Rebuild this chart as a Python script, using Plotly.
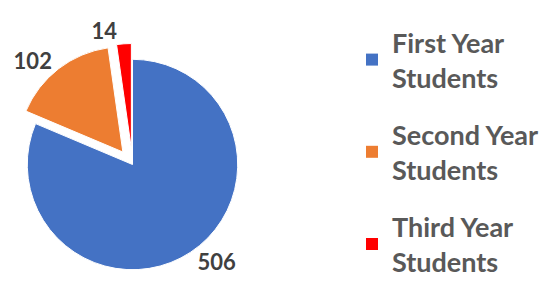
import plotly.graph_objects as go

categories = ["First Year Students", "Second Year Students", "Third Year Students"]
legend_labels = ["First Year<br>Students", "Second Year<br>Students", "Third Year<br>Students"]
values = [506, 102, 14]
colors = ["#4472C4", "#ED7D31", "#FF0000"]
pulls = [0, 0.15, 0.15]

fig = go.Figure()
fig.add_trace(go.Pie(
    labels=categories,
    values=values,
    sort=False,
    direction="clockwise",
    rotation=0,
    pull=pulls,
    marker=dict(colors=colors, line=dict(color="white", width=1)),
    textinfo="value",
    textposition="outside",
    textfont=dict(family="Lato", size=22, color="#404040", weight="bold"),
    domain=dict(x=[3.5/560, 245.5/560], y=[1-277.5/285, 1-35.5/285]),
    hoverinfo="label+value",
    showlegend=False,
))

# legend entries
for lab, col in zip(legend_labels, colors):
    fig.add_trace(go.Scatter(
        x=[None], y=[None], mode="markers", name=lab,
        marker=dict(symbol="square", size=12, color=col),
        legendgroup=lab, showlegend=True, hoverinfo="skip",
    ))

fig.update_layout(
    width=560, height=285,
    margin=dict(l=0, r=0, t=0, b=0, autoexpand=False),
    paper_bgcolor="white",
    plot_bgcolor="white",
    xaxis=dict(visible=False),
    yaxis=dict(visible=False),
    showlegend=True,
    legend=dict(
        x=344/560, y=1-10/285, xanchor="left", yanchor="top",
        font=dict(family="Lato", size=27, color="#595959", weight="bold"),
        bgcolor="rgba(0,0,0,0)",
        tracegroupgap=19,
        itemsizing="trace",
        maxheight=400,
    ),
)

fig.write_html("out.html")
